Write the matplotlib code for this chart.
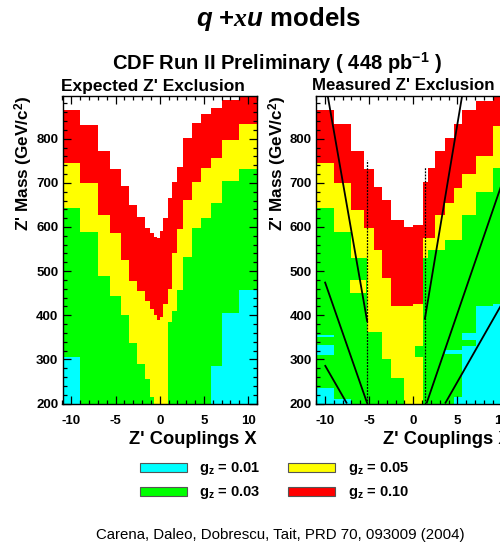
import matplotlib
matplotlib.use('Agg')
import matplotlib.pyplot as plt
from matplotlib.patches import Rectangle
from matplotlib.ticker import MultipleLocator, FixedLocator

plt.rcParams['font.family'] = ['Liberation Sans', 'DejaVu Sans']
plt.rcParams['font.weight'] = 'bold'
plt.rcParams['axes.unicode_minus'] = False
plt.rcParams['mathtext.fontset'] = 'custom'
plt.rcParams['mathtext.rm'] = 'Liberation Sans:bold'
plt.rcParams['mathtext.bf'] = 'Liberation Sans:bold'
plt.rcParams['mathtext.it'] = 'Liberation Serif:italic'
plt.rcParams['mathtext.bfit'] = 'Liberation Sans:italic:bold'

# ---------------- data ----------------
MASS_MIN = 200
MASS_MAX = 898
COUPLING_MIN, COUPLING_MAX = -11, 11

level_names = ['g_z = 0.01', 'g_z = 0.03', 'g_z = 0.05', 'g_z = 0.10']
level_colors = ['#00ffff', '#00ff00', '#ffff00', '#ff0000']

# Expected exclusion: upper mass limit (GeV) per coupling bin for each g_z
exp_edges = [-11, -9, -7, -5.6, -4.4, -3.5, -2.55, -1.7, -1.1, -0.7, -0.35, 0,
             0.4, 0.95, 1.4, 1.9, 2.65, 3.6, 4.7, 5.8, 7.0, 9.0, 11]
exp_g010 = [866, 832, 772, 732, 692, 650, 622, 598, 587, 578, 574,
            590, 620, 665, 703, 737, 801, 835, 856, 870, 887, 900]
exp_g005 = [745, 700, 628, 586, 526, 478, 454, 432, 415, 400, 390,
            395, 425, 460, 541, 595, 661, 703, 733, 756, 798, 833]
exp_g003 = [643, 588, 489, 443, 400, 336, 290, 255, 215, 200, 200,
            200, 200, 385, 410, 457, 533, 598, 620, 654, 704, 732]
exp_g001 = [306, 200, 200, 200, 200, 200, 200, 200, 200, 200, 200,
            200, 200, 200, 200, 200, 200, 200, 200, 285, 405, 458]

# Measured exclusion
meas_edges = [-11, -9, -7, -5.6, -5.2, -4.4, -3.5, -2.5, -1.1, 0,
              1.15, 1.7, 2.5, 3.6, 4.6, 5.5, 7.1, 9.0, 11]
meas_g010 = [866, 833, 772, 732, 732, 690, 661, 615, 600,
             605, 703, 733, 772, 801, 833, 866, 885, 897]
meas_g005 = [746, 699, 639, 597, 597, 548, 484, 420, 420,
             425, 574, 574, 627, 655, 688, 720, 762, 830]
meas_g003 = [642, 589, 530, 530, 363, 363, 300, 257, 200,
             200, 530, 548, 548, 571, 571, 627, 680, 733]
meas_g001 = [235, 200, 200, 200, 200, 200, 200, 200, 200,
             200, 200, 200, 200, 200, 215, 330, 420, 425]
# small isolated patches in the measured map: (x0, x1, m0, m1, level index)
meas_patches_x0 = [-11, -11, -9.0, -7.1, 0.2, 5.5, 3.6]
meas_patches_x1 = [-9.0, -9.0, -7.0, -5.4, 1.15, 7.1, 5.5]
meas_patches_m0 = [310, 350, 200, 450, 305, 345, 312]
meas_patches_m1 = [332, 356, 210, 480, 330, 360, 322]
meas_patches_lv = [0, 0, 0, 2, 1, 0, 0]

# theory lines on the measured panel
solid_x = [(-9.7, -5.2), (-10.0, -5.2), (-10.0, -7.5), (1.3, 5.55), (1.5, 11.0), (3.6, 11.0)]
solid_m = [(900, 385), (476, 200), (287, 200), (390, 900), (200, 755), (200, 460)]
dotted_x = [(-5.2, -5.2), (1.3, 1.3)]
dotted_m = [(200, 752), (200, 735)]

xticks = [-10, -5, 0, 5, 10]
yticks = [200, 300, 400, 500, 600, 700, 800]

# ---------------- figure ----------------
W, H = 500, 545
fig = plt.figure(figsize=(W / 100, H / 100), dpi=100)


def fx(px):
    return px / W


def fy(py):
    return 1 - py / H


ax_w = 194.5 / W
ax_h = (403.5 - 95.5) / H
axL = fig.add_axes([fx(62.5), fy(403.5), ax_w, ax_h])
axR = fig.add_axes([fx(316), fy(403.5), ax_w, ax_h])


def draw_panel(ax, edges, limits, px0, px1, pm0, pm1, plv):
    for lv in [3, 2, 1, 0]:
        ax.stairs(limits[lv], edges, baseline=MASS_MIN, fill=True,
                  color=level_colors[lv], linewidth=0)
    for a, b, c, d, lv in zip(px0, px1, pm0, pm1, plv):
        ax.bar(a, d - c, width=b - a, bottom=c, align='edge',
               color=level_colors[lv], linewidth=0)
    ax.set_xlim(COUPLING_MIN, COUPLING_MAX)
    ax.set_ylim(MASS_MIN, MASS_MAX)
    ax.xaxis.set_major_locator(FixedLocator(xticks))
    ax.xaxis.set_minor_locator(MultipleLocator(1))
    ax.yaxis.set_major_locator(FixedLocator(yticks))
    ax.yaxis.set_minor_locator(MultipleLocator(20))
    ax.tick_params(which='both', direction='in', top=True, right=True,
                   width=0.9, labelsize=9.5)
    ax.tick_params(which='major', length=6)
    ax.tick_params(which='minor', length=3)
    ax.tick_params(axis='x', pad=8)
    ax.tick_params(axis='y', pad=3)
    for lab in ax.get_xticklabels() + ax.get_yticklabels():
        lab.set_fontweight('bold')
    for s in ax.spines.values():
        s.set_linewidth(1.0)
    ax.set_xlabel("Z' Couplings X", loc='right', fontsize=13.2,
                  fontweight='bold', labelpad=3)
    ax.set_ylabel("Z' Mass (GeV/c$^{\\mathbf{2}}$)", loc='top', fontsize=12.3,
                  fontweight='bold', labelpad=0.5)


draw_panel(axL, exp_edges, [exp_g001, exp_g003, exp_g005, exp_g010],
           [], [], [], [], [])
draw_panel(axR, meas_edges, [meas_g001, meas_g003, meas_g005, meas_g010],
           meas_patches_x0, meas_patches_x1, meas_patches_m0,
           meas_patches_m1, meas_patches_lv)

for xs, ms in zip(solid_x, solid_m):
    axR.plot(xs, ms, color='black', linewidth=1.3, solid_capstyle='butt')
for xs, ms in zip(dotted_x, dotted_m):
    axR.plot(xs, ms, color='black', linewidth=0.9, linestyle=(0, (1.5, 1.0)))

# titles
fig.text(fx(278), fy(19), r'$\mathbfit{q}$ +$\mathit{x}\mathbfit{u}$ models',
         ha='center', va='center', fontsize=18.5, fontweight='bold')
fig.text(fx(277), fy(63), r'CDF Run II Preliminary ( 448 pb$^{\mathbf{-1}}$ )',
         ha='center', va='center', fontsize=14.5, fontweight='bold')
fig.text(fx(152.5), fy(86), "Expected Z' Exclusion", ha='center', va='center',
         fontsize=12.5, fontweight='bold')
fig.text(fx(312), fy(86), "Measured Z' Exclusion", ha='left', va='center',
         fontsize=12.2, fontweight='bold')

# legend
leg_box_x = [140, 140, 288, 288]
leg_box_y = [463, 487, 463, 487]
leg_text_x = [199, 199, 348, 348]
for i, lv in enumerate([0, 1, 2, 3]):
    bx, by = leg_box_x[i], leg_box_y[i]
    fig.add_artist(Rectangle((fx(bx), fy(by + 9)), 47 / W, 9 / H,
                             transform=fig.transFigure, facecolor=level_colors[lv],
                             edgecolor='#555555', linewidth=0.8))
    val = level_names[lv].split('= ')[1]
    fig.text(fx(leg_text_x[i]), fy(by + 9), r'g$_{\mathbf{z}}$ = ' + val,
             ha='left', va='baseline', fontsize=10.5, fontweight='bold')

fig.text(fx(280), fy(535), 'Carena, Daleo, Dobrescu, Tait, PRD 70, 093009 (2004)',
         ha='center', va='center', fontsize=10.8, fontweight='normal')

fig.savefig('out.png', dpi=100)
